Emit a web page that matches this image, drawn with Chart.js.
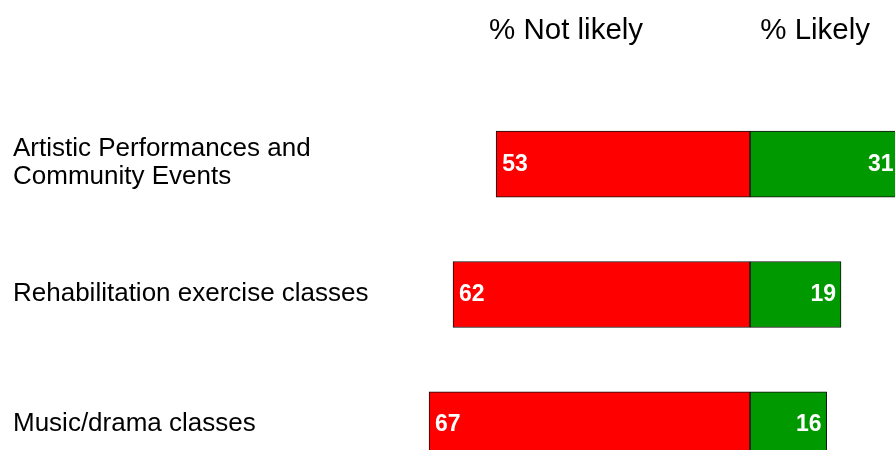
<!DOCTYPE html>
<html>
<head>
<meta charset="utf-8">
<script src="https://cdn.jsdelivr.net/npm/chart.js@4"></script>
<style>
    html, body { margin: 0; padding: 0; background: #fff; }
    #wrap { width: 895px; height: 450px; overflow: hidden; position: relative; }
</style>
</head>
<body>
<div id="wrap"><canvas id="chart" width="895" height="490"></canvas></div>
<script>
// Data
const categories = [
    ["Artistic Performances and", "Community Events"],
    "Rehabilitation exercise classes",
    "Music/drama classes",
];
const notLikely = [53, 62, 67];
const likely = [31, 19, 16];
const seriesLabels = ["% Not likely", "% Likely"];

const FONT = "'Liberation Sans', Arial, sans-serif";

// draws headers, category labels and value labels inside bars
const labelPlugin = {
    id: "labels",
    afterDatasetsDraw(chart) {
        const ctx = chart.ctx;
        const xs = chart.scales.x;
        const ys = chart.scales.y;
        ctx.save();
        ctx.textBaseline = "middle";

        // headers
        ctx.fillStyle = "#000";
        ctx.font = "29.5px " + FONT;
        ctx.textAlign = "center";
        ctx.fillText(seriesLabels[0], xs.getPixelForValue(-38.4), 31);
        ctx.fillText(seriesLabels[1], xs.getPixelForValue(13.6), 31);

        // category labels, left aligned
        ctx.font = "26px " + FONT;
        ctx.textAlign = "left";
        categories.forEach((cat, i) => {
            const lines = Array.isArray(cat) ? cat : [cat];
            const yc = ys.getPixelForValue(i);
            const lh = 28;
            lines.forEach((line, j) => {
                ctx.fillText(line, 13, yc + (j - (lines.length - 1) / 2) * lh - 1);
            });
        });

        // values
        ctx.fillStyle = "#fff";
        ctx.font = "bold 23px " + FONT;
        chart.getDatasetMeta(0).data.forEach((bar, i) => {
            ctx.textAlign = "left";
            ctx.fillText(notLikely[i], bar.x + 6, bar.y);
        });
        chart.getDatasetMeta(1).data.forEach((bar, i) => {
            ctx.textAlign = "right";
            ctx.fillText(likely[i], bar.x - 5, bar.y);
        });
        ctx.restore();
    },
};

new Chart(document.getElementById("chart"), {
    type: "bar",
    data: {
        labels: categories,
        datasets: [
            {
                label: seriesLabels[0],
                data: notLikely.map((v) => -v),
                backgroundColor: "#ff0000",
                borderColor: "#111",
                borderWidth: 1,
                borderSkipped: false,
                barThickness: 66,
            },
            {
                label: seriesLabels[1],
                data: likely,
                backgroundColor: "#009900",
                borderColor: "#111",
                borderWidth: 1,
                borderSkipped: false,
                barThickness: 66,
            },
        ],
    },
    options: {
        indexAxis: "y",
        responsive: false,
        animation: false,
        layout: { padding: { top: 99, left: 13, right: 0, bottom: 0 } },
        plugins: {
            legend: { display: false },
            tooltip: { enabled: false },
        },
        scales: {
            x: {
                stacked: true,
                display: false,
                min: -73.07,
                max: 30.27,
            },
            y: {
                stacked: true,
                grid: { display: false },
                border: { display: false },
                ticks: { display: false },
                afterFit: (scale) => { scale.width = 387; },
            },
        },
    },
    plugins: [labelPlugin],
});
</script>
</body>
</html>
